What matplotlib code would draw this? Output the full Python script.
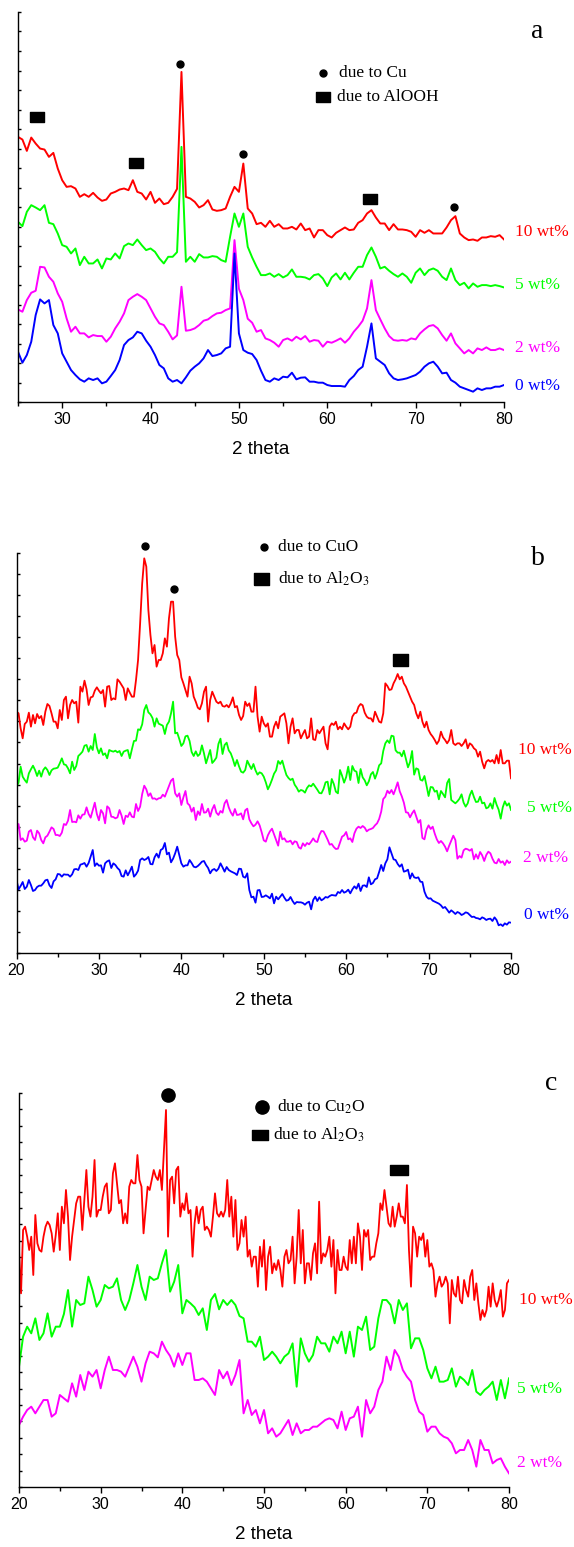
import numpy as np
import matplotlib
matplotlib.use('Agg')
import matplotlib.pyplot as plt

plt.rcParams['font.family'] = ['Liberation Sans', 'DejaVu Sans']
plt.rcParams['mathtext.fontset'] = 'stix'

# ---------------- data (intensities, arbitrary units) ----------------
a_theta = np.arange(25, 80.001, 0.5)
a_red = [796, 788, 754, 794, 776, 761, 758, 736, 748, 701,
         666, 646, 648, 641, 616, 624, 616, 628, 614, 604,
         608, 626, 631, 638, 641, 636, 666, 631, 626, 608,
         631, 598, 611, 594, 598, 616, 640, 991, 616, 611,
         601, 584, 591, 606, 578, 574, 576, 581, 616, 646,
         631, 716, 581, 566, 534, 538, 526, 544, 526, 534,
         521, 521, 526, 518, 536, 516, 521, 494, 516, 516,
         501, 494, 508, 516, 524, 516, 518, 538, 546, 566,
         576, 554, 536, 536, 516, 534, 518, 518, 516, 511,
         496, 516, 508, 516, 506, 506, 506, 524, 546, 558,
         506, 494, 486, 488, 484, 494, 494, 498, 496, 501,
         488]
a_green = [541, 528, 571, 591, 584, 576, 591, 538, 534, 506,
           471, 466, 446, 461, 411, 436, 416, 416, 428, 401,
           431, 428, 446, 431, 468, 476, 471, 488, 471, 456,
           461, 451, 431, 416, 436, 436, 450, 766, 421, 436,
           421, 444, 434, 434, 438, 436, 426, 421, 496, 566,
           526, 566, 466, 434, 406, 381, 381, 386, 376, 384,
           374, 381, 398, 376, 376, 374, 368, 381, 384, 371,
           348, 374, 386, 368, 388, 368, 388, 406, 406, 441,
           464, 436, 401, 406, 394, 384, 376, 386, 376, 358,
           388, 401, 381, 396, 401, 394, 376, 366, 401, 366,
           351, 358, 341, 356, 346, 351, 351, 348, 351, 348,
           344]
a_magenta = [278, 271, 306, 328, 334, 406, 404, 376, 361, 326,
             301, 251, 211, 226, 206, 206, 194, 201, 198, 198,
             181, 196, 221, 241, 266, 306, 316, 324, 316, 306,
             281, 256, 236, 231, 211, 188, 200, 346, 214, 216,
             221, 231, 244, 248, 258, 266, 268, 276, 281, 486,
             340, 306, 250, 238, 211, 216, 191, 186, 178, 166,
             186, 191, 184, 196, 188, 198, 181, 186, 184, 166,
             181, 178, 184, 191, 178, 191, 211, 226, 244, 281,
             366, 276, 248, 221, 198, 186, 184, 186, 184, 191,
             188, 206, 218, 228, 231, 221, 201, 184, 206, 176,
             161, 146, 156, 146, 161, 156, 164, 156, 156, 161,
             156]
a_blue = [151, 118, 141, 181, 261, 308, 296, 306, 231, 206,
          146, 121, 96, 81, 68, 61, 71, 66, 71, 56,
          61, 78, 96, 126, 171, 186, 194, 211, 206, 184,
          166, 141, 111, 101, 71, 61, 66, 56, 74, 94,
          106, 116, 131, 156, 138, 141, 146, 161, 166, 446,
          206, 156, 148, 144, 126, 94, 66, 61, 71, 66,
          76, 74, 88, 68, 73, 74, 61, 61, 58, 58,
          51, 48, 48, 48, 46, 66, 78, 96, 106, 166,
          236, 131, 121, 111, 86, 71, 66, 68, 71, 76,
          81, 91, 106, 116, 121, 106, 86, 88, 66, 58,
          46, 41, 36, 31, 41, 36, 41, 41, 46, 46,
          51]

b_theta = np.arange(20, 80.001, 0.25)
b_red = [724, 719, 674, 644, 687, 694, 721, 679, 714, 689,
         717, 704, 711, 684, 724, 747, 741, 719, 694, 694,
         674, 729, 699, 759, 769, 704, 744, 759, 749, 754,
         691, 799, 784, 817, 791, 744, 767, 769, 787, 797,
         787, 779, 789, 739, 799, 801, 759, 764, 761, 821,
         814, 804, 794, 759, 794, 781, 769, 769, 819, 879,
         989, 1109, 1184, 1159, 1029, 954, 899, 924, 859, 879,
         879, 899, 944, 919, 1004, 1054, 1054, 949, 894, 879,
         827, 809, 789, 769, 829, 809, 769, 754, 736, 731,
         749, 784, 799, 694, 759, 784, 769, 754, 749, 754,
         741, 739, 744, 737, 749, 767, 737, 741, 714, 699,
         711, 754, 741, 749, 724, 724, 799, 709, 664, 709,
         689, 679, 689, 649, 649, 679, 694, 674, 709,
         714, 719, 689, 629, 679, 704, 659, 669, 669, 644,
         657, 669, 644, 649, 704, 641, 639, 669, 659, 669,
         679, 629, 611, 679, 689, 684, 694, 671, 679, 671,
         689, 679, 671, 679, 709, 719, 721, 739, 747, 743,
         721, 709, 704, 704, 694, 724, 709, 694, 691, 719,
         809, 801, 789, 791, 809, 821, 837, 821, 829, 809,
         799, 784, 769, 754, 744, 719, 704, 724, 694, 677,
         694, 669, 657, 649, 639, 627, 637, 664, 647, 639,
         629, 639, 669, 629, 624, 629, 629, 621, 629, 641,
         614, 629, 624, 614, 609, 589, 604, 574, 554, 574,
         579, 574, 579, 569, 594, 569, 609, 569, 569, 577, 577, 524]
b_green = [499, 511, 559, 529, 519, 511, 539, 551, 562, 549,
           531, 547, 529, 549, 557, 549, 534, 548, 553, 554,
           556, 569, 584, 566, 564, 554, 539, 574, 549, 561,
           591, 597, 604, 622, 624, 604, 621, 609, 657, 617,
           599, 614, 594, 599, 584, 609, 606, 604, 607, 602,
           606, 591, 604, 607, 609, 584, 611, 636, 637, 671,
           669, 686, 729, 744, 722, 716, 705, 679, 704, 688,
           685, 682, 657, 684, 694, 719, 754, 659, 661, 642,
           621, 629, 650, 652, 636, 603, 591, 605, 591, 597,
           623, 599, 569, 589, 609, 570, 577, 586, 627, 643,
           597, 624, 631, 608, 599, 582, 561, 579, 560, 544,
           541, 549, 577, 564, 552, 567, 548, 535, 542, 539,
           529, 512, 491, 504, 520, 538, 548, 576, 567,
           577, 554, 534, 525, 519, 523, 505, 496, 484, 489,
           487, 481, 495, 503, 500, 508, 499, 490, 480, 479,
           492, 512, 514, 476, 522, 507, 484, 479, 549, 532,
           511, 528, 559, 519, 561, 547, 544, 510, 552, 527,
           518, 503, 515, 536, 543, 523, 540, 563, 569, 606,
           629, 638, 630, 652, 650, 608, 601, 601, 590, 607,
           582, 557, 573, 606, 535, 554, 551, 520, 517, 531,
           502, 471, 498, 497, 484, 487, 461, 486, 477, 467,
           510, 522, 459, 454, 449, 455, 463, 476, 451, 439,
           449, 473, 487, 468, 453, 454, 469, 449, 451, 434,
           437, 449, 433, 465, 445, 430, 403, 437, 455, 442, 449, 429]
b_magenta = [364, 387, 339, 344, 334, 337, 364, 369, 347, 339,
             367, 359, 339, 329, 347, 352, 364, 377, 372, 354,
             354, 351, 361, 387, 384, 397, 429, 393, 394, 392,
             413, 403, 415, 416, 437, 417, 406, 429, 451, 417,
             398, 429, 419, 389, 440, 434, 409, 408, 404, 407,
             429, 412, 387, 412, 408, 422, 409, 407, 447, 426,
             439, 477, 502, 491, 471, 479, 463, 464, 460, 464,
             465, 475, 469, 485, 501, 517, 523, 479, 469, 479,
             444, 467, 486, 449, 443, 424, 436, 399, 425, 414,
             447, 421, 422, 433, 409, 431, 444, 421, 414, 426,
             421, 449, 459, 437, 422, 412, 432, 414, 415, 419,
             401, 428, 433, 401, 389, 380, 385, 395, 383, 362,
             338, 334, 353, 365, 373, 356, 339, 322, 364,
             341, 344, 334, 334, 337, 326, 335, 333, 317, 313,
             329, 321, 330, 326, 334, 344, 335, 333, 354, 366,
             365, 353, 340, 325, 327, 318, 312, 313, 331, 349,
             353, 363, 341, 344, 333, 359, 373, 379, 375, 381,
             376, 365, 370, 372, 375, 383, 389, 402, 424, 462,
             469, 487, 479, 489, 476, 493, 512, 485, 470, 451,
             422, 421, 407, 419, 428, 410, 391, 399, 345, 341,
             370, 383, 372, 379, 358, 341, 330, 336, 329, 319,
             305, 322, 337, 352, 339, 283, 291, 286, 308, 313,
             311, 307, 312, 281, 296, 283, 303, 293, 276, 294,
             304, 299, 283, 271, 269, 282, 271, 275, 264, 278, 270, 274]
b_blue = [219, 191, 201, 213, 192, 199, 219, 204, 186, 189,
          198, 202, 202, 209, 218, 220, 203, 195, 215, 221,
          237, 236, 229, 236, 235, 235, 229, 236, 251, 252,
          249, 265, 267, 270, 259, 270, 289, 309, 261, 269,
          262, 263, 241, 269, 275, 278, 255, 269, 264, 255,
          249, 231, 229, 248, 233, 245, 259, 229, 236, 247,
          279, 284, 279, 282, 288, 267, 266, 287, 298, 286,
          309, 313, 330, 296, 301, 272, 283, 299, 319, 294,
          269, 259, 263, 263, 279, 270, 259, 257, 261, 267,
          274, 276, 264, 255, 239, 249, 252, 246, 253, 269,
          257, 244, 258, 249, 245, 242, 239, 234, 253, 252,
          229, 226, 239, 189, 167, 169, 151, 188, 189, 168,
          169, 173, 169, 164, 178, 149, 169, 161, 169,
          177, 166, 157, 159, 168, 156, 147, 153, 152, 152,
          150, 145, 151, 154, 131, 159, 169, 156, 167, 158,
          162, 168, 166, 171, 174, 173, 172, 183, 180, 189,
          181, 184, 190, 179, 191, 200, 193, 208, 186, 202,
          203, 198, 227, 206, 210, 221, 224, 243, 264, 246,
          269, 281, 317, 299, 281, 279, 267, 259, 266, 244,
          246, 250, 223, 239, 227, 225, 227, 214, 213, 184,
          169, 163, 164, 157, 154, 151, 148, 143, 135, 138,
          130, 121, 128, 123, 117, 123, 120, 114, 117, 122,
          120, 114, 108, 109, 105, 104, 101, 107, 104, 99,
          102, 103, 96, 107, 99, 83, 86, 81, 89, 85, 92, 91]

c_theta_fine = np.arange(20, 80.001, 0.25)
c_red = [711, 581, 771, 781, 751, 711, 751, 636, 816, 731,
         711, 706, 751, 781, 796, 786, 761, 706, 756, 821,
         711, 841, 791, 891, 811, 681, 751, 801, 851, 871,
         871, 771, 861, 951, 841, 811, 871, 981, 811, 831,
         831, 871, 901, 911, 821, 831, 941, 971, 911, 851,
         861, 791, 821, 791, 901, 921, 911, 911, 996, 921,
         901, 761, 831, 901, 891, 921, 951, 931, 921, 951,
         891, 1011, 1131, 751, 921, 931, 851, 951, 961, 811,
         851, 831, 881, 821, 831, 691, 791, 841, 791, 831,
         841, 771, 781, 771, 751, 811, 881, 821, 811, 826,
         811, 831, 921, 811, 871, 751, 861, 711, 731, 801,
         751, 811, 691, 711, 661, 691, 691, 601, 721, 661,
         741, 591, 691, 721, 641, 671, 651, 681, 651, 601,
         691, 711, 671, 681, 751, 611, 691, 831, 671, 771,
         611, 671, 671, 621, 701, 731, 641, 856, 671, 701,
         691, 711, 751, 661, 741, 581, 711, 651, 651, 691,
         661, 651, 741, 671, 751, 671, 791, 751, 651, 771,
         751, 771, 681, 691, 691, 731, 761, 851, 831, 891,
         841, 791, 781, 841, 781, 811, 851, 811, 811, 791,
         906, 711, 601, 781, 761, 691, 751, 741, 761, 691,
         741, 661, 671, 651, 571, 611, 631, 601, 611, 631,
         611, 491, 621, 581, 571, 631, 561, 551, 621, 591,
         571, 631, 651, 561, 611, 551, 501, 531, 511, 531,
         601, 541, 611, 561, 541, 561, 591, 511, 531, 611,
         621]
c_theta = np.arange(20, 80.001, 0.5)
c_green = [361, 451, 481, 461, 506, 441, 461, 521, 451, 481,
           481, 519, 591, 481, 561, 546, 551, 631, 591, 541,
           561, 606, 596, 601, 626, 561, 531, 561, 611, 666,
           601, 561, 631, 621, 626, 671, 711, 586, 616, 666,
           521, 561, 551, 539, 516, 536, 471, 561, 579, 533,
           561, 546, 561, 546, 513, 506, 436, 436, 421, 451,
           381, 391, 406, 391, 371, 391, 401, 431, 301, 446,
           401, 376, 396, 451, 431, 431, 406, 451, 431, 466,
           401, 466, 391, 481, 471, 511, 411, 421, 506, 561,
           561, 546, 491, 561, 531, 551, 416, 446, 446, 411,
           356, 326, 361, 316, 316, 321, 356, 301, 331, 321,
           306, 351, 286, 276, 291, 301, 316, 261, 321, 266,
           326]
c_magenta = [186, 211, 231, 241, 221, 241, 261, 261, 211, 221,
             276, 266, 256, 311, 271, 336, 291, 346, 331, 351,
             296, 351, 391, 351, 351, 346, 331, 361, 391, 361,
             316, 371, 406, 401, 389, 436, 411, 393, 361, 401,
             366, 401, 401, 321, 321, 326, 316, 296, 276, 351,
             326, 346, 306, 336, 381, 221, 261, 216, 231, 191,
             231, 161, 176, 151, 161, 181, 201, 156, 191, 161,
             171, 171, 181, 181, 191, 201, 206, 201, 176, 226,
             171, 206, 211, 241, 151, 261, 221, 241, 291, 316,
             391, 351, 411, 391, 351, 331, 316, 261, 226, 216,
             166, 181, 181, 161, 151, 146, 131, 101, 111, 111,
             141, 111, 61, 141, 111, 111, 71, 81, 86, 61,
             41]

# peak markers (2 theta, intensity)
a_cu_x, a_cu_y = [43.3, 50.5, 74.3], [1016, 746, 584]
a_alooh_x, a_alooh_y = [27.2, 38.3, 64.8], [855, 717, 609]
b_cuo_x, b_cuo_y = [35.65, 39.1], [1221, 1093]
b_al_x, b_al_y = [66.5], [879]
c_cu2o_x, c_cu2o_y = [38.3], [1175]
c_al_x, c_al_y = [66.5], [952]

labels = ['10 wt%', '5 wt%', '2 wt%', '0 wt%']
colors = ['#ff0000', '#00ff00', '#ff00ff', '#0000ff']

# ---------------- figure ----------------
W, H = 574, 1547
fig = plt.figure(figsize=(W / 100, H / 100), dpi=100)


def px_axes(left, top, right, bottom):
    return fig.add_axes([left / W, 1 - bottom / H, (right - left) / W, (bottom - top) / H])


def rect_marker(ratio):
    return [(-1, -ratio), (1, -ratio), (1, ratio), (-1, ratio), (-1, -ratio)]


SERIF = ['Liberation Serif', 'DejaVu Serif']


def style(ax, xlim, major, minor, ytop, nint):
    ax.set_xlim(*xlim)
    ax.set_ylim(0, ytop)
    for s in ['top', 'right']:
        ax.spines[s].set_visible(False)
    for s in ['left', 'bottom']:
        ax.spines[s].set_linewidth(1.0)
    ax.set_xticks(major)
    ax.set_xticks(minor, minor=True)
    ax.set_yticks(np.linspace(0, ytop, nint + 1))
    ax.set_yticklabels([])
    ax.tick_params(axis='x', which='major', direction='out', length=4, width=1,
                   labelsize=11.5, pad=3)
    ax.tick_params(axis='x', which='minor', direction='out', length=3, width=1)
    ax.tick_params(axis='y', which='major', direction='in', length=2, width=1)
    ax.set_xlabel('2 theta', fontsize=13.5, labelpad=10)


def curve_labels(ax, xs, ys, labs, cols):
    for x, y, s, c in zip(xs, ys, labs, cols):
        ax.text(x, y, s, color=c, fontsize=12.5, family=SERIF, ha='left', va='center',
                clip_on=False)


# ----- panel a -----
ax = px_axes(18, 12, 504, 402)
for y, c in zip([a_red, a_green, a_magenta, a_blue], colors):
    ax.plot(a_theta, y, color=c, lw=1.4)
style(ax, (25, 80), [30, 40, 50, 60, 70, 80], [25, 35, 45, 55, 65, 75], 1171, 20)
ax.plot(a_cu_x, a_cu_y, 'o', color='k', ms=5, clip_on=False)
ax.plot(a_alooh_x, a_alooh_y, ls='none', marker=rect_marker(0.78), color='k', ms=9.4, clip_on=False)
ax.plot([59.5], [987], 'o', color='k', ms=5, clip_on=False)
ax.plot([59.5], [915], ls='none', marker=rect_marker(0.78), color='k', ms=9.4, clip_on=False)
ax.text(61.3, 987, 'due to Cu', fontsize=12.5, family=SERIF, va='center', ha='left')
ax.text(61.1, 915, 'due to AlOOH', fontsize=12.5, family=SERIF, va='center', ha='left')
ax.text(83.7, 1113, 'a', fontsize=20, family=SERIF, ha='center', va='center', clip_on=False)
curve_labels(ax, [81.2, 81.2, 81.2, 81.2], [510, 351, 161, 49], labels, colors)

# ----- panel b -----
ax = px_axes(16.5, 553, 511, 953)
for y, c in zip([b_red, b_green, b_magenta, b_blue], colors):
    ax.plot(b_theta, y, color=c, lw=1.3)
style(ax, (20, 80), [20, 30, 40, 50, 60, 70, 80], [25, 35, 45, 55, 65, 75], 1200, 19)
ax.plot(b_cuo_x, b_cuo_y, 'o', color='k', ms=5, clip_on=False)
ax.plot(b_al_x, b_al_y, ls='none', marker=rect_marker(0.85), color='k', ms=10.8, clip_on=False)
ax.plot([50.0], [1218], 'o', color='k', ms=5, clip_on=False)
ax.plot([49.66], [1122], ls='none', marker=rect_marker(0.82), color='k', ms=10.8, clip_on=False)
ax.text(51.7, 1218, 'due to CuO', fontsize=12.5, family=SERIF, va='center', ha='left', clip_on=False)
ax.text(51.7, 1122, r'due to Al$_2$O$_3$', fontsize=12.5, family=SERIF, va='center', ha='left')
ax.text(83.3, 1185, 'b', fontsize=20, family=SERIF, ha='center', va='center', clip_on=False)
curve_labels(ax, [80.9, 82.0, 81.5, 81.6], [609, 434, 284, 114], labels, colors)

# ----- panel c -----
ax = px_axes(19, 1093, 509, 1487)
ax.plot(c_theta_fine, c_red, color=colors[0], lw=1.3)
ax.plot(c_theta, c_green, color=colors[1], lw=1.4)
ax.plot(c_theta, c_magenta, color=colors[2], lw=1.4)
style(ax, (20, 80), [20, 30, 40, 50, 60, 70, 80], [25, 35, 45, 55, 65, 75], 1182, 24)
ax.plot(c_cu2o_x, c_cu2o_y, 'o', color='k', ms=9.5, clip_on=False)
ax.plot(c_al_x, c_al_y, ls='none', marker=rect_marker(0.53), color='k', ms=12.7, clip_on=False)
ax.plot([49.75], [1140], 'o', color='k', ms=9.5, clip_on=False)
ax.plot([49.5], [1056], ls='none', marker=rect_marker(0.67), color='k', ms=11.5, clip_on=False)
ax.text(51.6, 1140, r'due to Cu$_2$O', fontsize=12.5, family=SERIF, va='center', ha='left')
ax.text(51.1, 1056, r'due to Al$_2$O$_3$', fontsize=12.5, family=SERIF, va='center', ha='left')
ax.text(85.1, 1209, 'c', fontsize=20, family=SERIF, ha='center', va='center', clip_on=False)
curve_labels(ax, [81.2, 81.0, 81.0], [561, 293, 71], labels[:3], colors[:3])

fig.savefig('out.png', dpi=100)
